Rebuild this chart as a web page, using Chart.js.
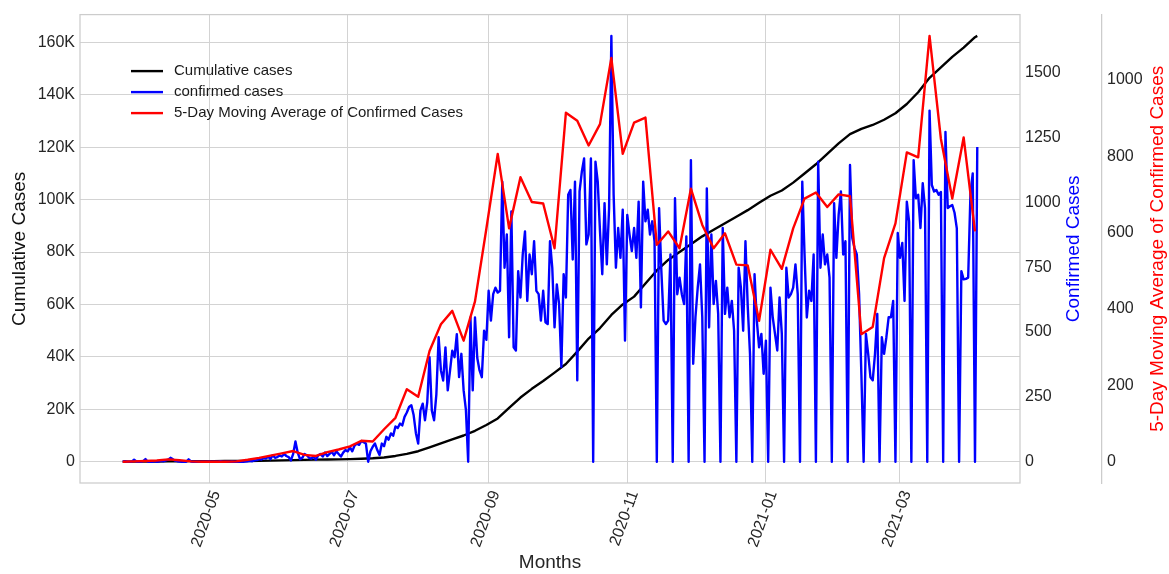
<!DOCTYPE html>
<html>
<head>
<meta charset="utf-8">
<script src="https://cdn.jsdelivr.net/npm/chart.js@4.4.1/dist/chart.umd.min.js"></script>
<style>
html,body{margin:0;padding:0;background:#fff;}
canvas{display:block;}
</style>
</head>
<body>
<canvas id="c" width="1169" height="574"></canvas>
<script>
// ---- data ----
const startDate = '2020-03-24';   // day 0 of the daily series

// daily confirmed cases, one value per day from startDate
const confirmedCases = [
0,2,0,0,0,8,1,0,0,2,
10,0,1,0,2,0,1,3,2,5,
8,15,10,4,2,1,0,0,0,9,
1,0,0,0,0,0,0,0,1,0,
0,0,0,2,0,0,0,0,1,0,
0,0,0,0,1,2,3,2,5,6,
10,8,14,12,20,10,25,15,18,24,
20,30,22,18,5,30,78,35,10,15,
30,25,15,12,20,8,24,30,20,35,
22,30,38,25,40,30,20,35,45,40,
55,40,62,70,65,80,75,70,0,40,
58,70,45,26,70,60,96,85,109,100,
136,130,147,140,173,190,211,218,180,110,
70,198,224,160,230,403,198,160,260,480,
352,313,441,275,350,428,403,492,326,416,
275,200,0,556,275,556,400,352,326,505,
470,659,544,646,671,652,659,1080,748,876,
480,965,441,429,735,633,799,888,620,799,
723,850,659,646,544,659,538,531,850,748,
518,684,608,365,723,633,1029,1048,780,1080,
314,1042,1118,1169,838,876,1169,0,1157,1080,
888,723,997,761,978,1642,1029,748,901,786,
972,467,952,876,812,901,786,1003,595,1080,
927,972,876,927,850,0,978,735,544,531,
544,799,0,1016,646,710,646,608,869,0,
1163,378,557,671,761,557,0,1054,518,876,
608,697,570,0,901,570,671,557,620,505,
0,748,671,505,850,600,416,0,723,544,
441,493,339,467,0,671,557,493,429,633,
493,0,748,633,646,671,761,646,0,1080,
799,556,659,620,799,0,1157,748,876,761,
799,710,0,997,786,952,1042,799,850,0,
1144,863,824,799,646,339,0,493,416,326,
314,416,570,0,480,416,480,557,557,620,
0,882,786,844,620,1003,927,0,1163,1016,
1029,901,1074,978,0,1354,1067,1042,1048,1029,
1040,0,1272,978,985,990,960,900,0,735,
703,705,710,1035,1112,0,1214
];

// cumulative cases, sampled on these days (days since startDate)
const cumulativeDays = [
0,5,10,15,20,25,30,35,40,45,
50,55,60,65,70,75,80,85,90,95,
100,105,110,115,120,125,130,135,140,145,
150,155,160,165,170,175,180,185,190,195,
200,205,210,215,220,225,230,235,240,245,
250,255,260,265,270,275,280,285,290,295,
300,305,310,315,320,325,330,335,340,345,
350,355,360,365,370,375,376
];
const cumulativeCases = [
0,20,50,90,130,180,210,230,240,245,
250,270,320,400,500,620,700,780,850,900,
1000,1150,1300,1600,2200,3000,4000,5500,7000,8500,
10000,11800,14000,16500,20500,24500,27800,30800,34000,37300,
42000,47000,51000,56000,60000,63000,68000,73000,77000,80000,
83000,86000,88500,91000,93500,96000,98800,101500,103500,106500,
110000,113500,117500,121500,125000,127000,128500,130500,133000,136500,
141000,146500,150500,154500,158000,162000,162500
];

// 5-day moving average, one value per 5-day bin (days since startDate)
const movingAverageDays = [
0,5,10,15,20,25,30,35,40,45,
50,55,60,65,70,75,80,85,90,95,
100,105,110,115,120,125,130,135,140,145,
150,155,160,165,170,175,180,185,190,195,
200,205,210,215,220,225,230,235,240,245,
250,255,260,265,270,275,280,285,290,295,
300,305,310,315,320,325,330,335,340,345,
350,355,360,365,370,375
];
const movingAverage = [
0,1,2,3,6,4,1,0,0,0,
1,5,10,16,22,28,18,15,25,32,
40,55,53,85,115,190,170,290,360,395,
317,420,610,806,611,745,680,676,559,914,
893,828,884,1057,806,888,901,568,603,559,
715,620,559,598,516,514,369,555,505,611,
689,705,667,700,695,334,353,533,624,810,
797,1115,845,689,849,603
];

// tick labels
const monthTickLabels = ['2020-05','2020-07','2020-09','2020-11','2021-01','2021-03'];
const cumulativeTicks = [0,20000,40000,60000,80000,100000,120000,140000,160000];
const cumulativeTickLabels = ['0','20K','40K','60K','80K','100K','120K','140K','160K'];
const confirmedTicks = [0,250,500,750,1000,1250,1500];
const movingAverageTicks = [0,200,400,600,800,1000];

const seriesLabels = ['Cumulative cases','confirmed cases','5-Day Moving Average of Confirmed Cases'];
const seriesColors = ['#000000','#0000ff','#ff0000'];

// ---- helpers ----
const DAY = 86400000;
const t0 = Date.parse(startDate + 'T00:00:00Z');
const monthTickDays = monthTickLabels.map(m => (Date.parse(m + '-01T00:00:00Z') - t0) / DAY);
const lastDay = confirmedCases.length - 1;
const xPad = lastDay * 0.05;
const pad = (arr) => { const mx = Math.max(...arr); return {min: -0.05 * mx, max: 1.05 * mx}; };
const cumR = pad(cumulativeCases), confR = pad(confirmedCases), maR = pad(movingAverage);

const FONT = '"Liberation Sans", Arial, sans-serif';
const TICK_COLOR = '#262626';
const GRID = '#d3d3d3';

const decor = {
  id: 'decor',
  afterDraw(chart) {
    const {ctx, chartArea: a} = chart;
    ctx.save();
    // plot frame
    ctx.strokeStyle = '#cccccc';
    ctx.lineWidth = 1.25;
    ctx.strokeRect(a.left, a.top, a.right - a.left, a.bottom - a.top);
    // legend (no frame)
    ctx.font = '15px ' + FONT;
    ctx.textBaseline = 'middle';
    ctx.textAlign = 'left';
    seriesLabels.forEach((lab, i) => {
      const y = a.top + 56.5 + i * 21;
      ctx.strokeStyle = seriesColors[i];
      ctx.lineWidth = 2.4;
      ctx.beginPath();
      ctx.moveTo(a.left + 51, y);
      ctx.lineTo(a.left + 83, y);
      ctx.stroke();
      ctx.fillStyle = '#1a1a1a';
      ctx.fillText(lab, a.left + 94, y);
    });
    // right axis titles (reading bottom to top)
    const cy = (a.top + a.bottom) / 2;
    const titles = [
      {x: chart.scales.y1.right - 28, text: 'Confirmed Cases', color: '#0000ff'},
      {x: chart.scales.y2.right - 11, text: '5-Day Moving Average of Confirmed Cases', color: '#ff0000'}
    ];
    ctx.font = '19px ' + FONT;
    ctx.textAlign = 'center';
    titles.forEach(t => {
      ctx.save();
      ctx.translate(t.x, cy);
      ctx.rotate(-Math.PI / 2);
      ctx.fillStyle = t.color;
      ctx.fillText(t.text, 0, 0);
      ctx.restore();
    });
    ctx.restore();
  }
};

new Chart(document.getElementById('c'), {
  type: 'line',
  data: {
    datasets: [
      {
        label: seriesLabels[0],
        data: cumulativeDays.map((d, i) => ({x: d, y: cumulativeCases[i]})),
        borderColor: seriesColors[0], borderWidth: 2.4, yAxisID: 'y', order: 3
      },
      {
        label: seriesLabels[1],
        data: confirmedCases.map((v, i) => ({x: i, y: v})),
        borderColor: seriesColors[1], borderWidth: 2.4, yAxisID: 'y1', order: 2
      },
      {
        label: seriesLabels[2],
        data: movingAverageDays.map((d, i) => ({x: d, y: movingAverage[i]})),
        borderColor: seriesColors[2], borderWidth: 2.4, yAxisID: 'y2', order: 1
      }
    ]
  },
  options: {
    responsive: false,
    animation: false,
    devicePixelRatio: 1,
    layout: {padding: {top: 12, left: 0, right: 0, bottom: 0}},
    elements: {
      point: {radius: 0, hoverRadius: 0},
      line: {tension: 0, fill: false, borderJoinStyle: 'round', borderCapStyle: 'butt'}
    },
    plugins: {legend: {display: false}, tooltip: {enabled: false}},
    scales: {
      x: {
        type: 'linear',
        min: -xPad, max: lastDay + xPad,
        afterBuildTicks: s => { s.ticks = monthTickDays.map(v => ({value: v})); },
        afterFit: s => { s.height = 91; },
        grid: {color: GRID, lineWidth: 1, drawTicks: false},
        border: {display: false},
        ticks: {
          autoSkip: false, minRotation: 70, maxRotation: 70, padding: 5, labelOffset: 7,
          color: TICK_COLOR, font: {family: FONT, size: 16},
          callback: (v, i) => monthTickLabels[i]
        },
        title: {display: true, text: 'Months', color: TICK_COLOR,
                font: {family: FONT, size: 19, lineHeight: 1.2}, padding: {top: 0, bottom: 0}}
      },
      y: {
        position: 'left',
        min: cumR.min, max: cumR.max,
        afterBuildTicks: s => { s.ticks = cumulativeTicks.map(v => ({value: v})); },
        afterFit: s => { s.width = 80; },
        grid: {color: GRID, lineWidth: 1, drawTicks: false},
        border: {display: false},
        ticks: {padding: 5, color: TICK_COLOR, font: {family: FONT, size: 16},
                callback: (v, i) => cumulativeTickLabels[i]},
        title: {display: true, text: 'Cumulative Cases', color: '#111111',
                font: {family: FONT, size: 19, lineHeight: 1.2}, padding: {top: 8.5, bottom: 0}}
      },
      y1: {
        position: 'right', weight: 0,
        min: confR.min, max: confR.max,
        afterBuildTicks: s => { s.ticks = confirmedTicks.map(v => ({value: v})); },
        afterFit: s => { s.width = 82; },
        grid: {display: false, drawTicks: false},
        border: {display: false},
        ticks: {padding: 5, color: TICK_COLOR, font: {family: FONT, size: 16},
                callback: v => String(v)}
      },
      y2: {
        position: 'right', weight: 1,
        min: maR.min, max: maR.max,
        afterBuildTicks: s => { s.ticks = movingAverageTicks.map(v => ({value: v})); },
        afterFit: s => { s.width = 67; },
        grid: {display: false, drawTicks: false},
        border: {display: true, color: '#cccccc', width: 1.25},
        ticks: {padding: 5, color: TICK_COLOR, font: {family: FONT, size: 16},
                callback: v => String(v)}
      }
    }
  },
  plugins: [decor]
});
</script>
</body>
</html>
